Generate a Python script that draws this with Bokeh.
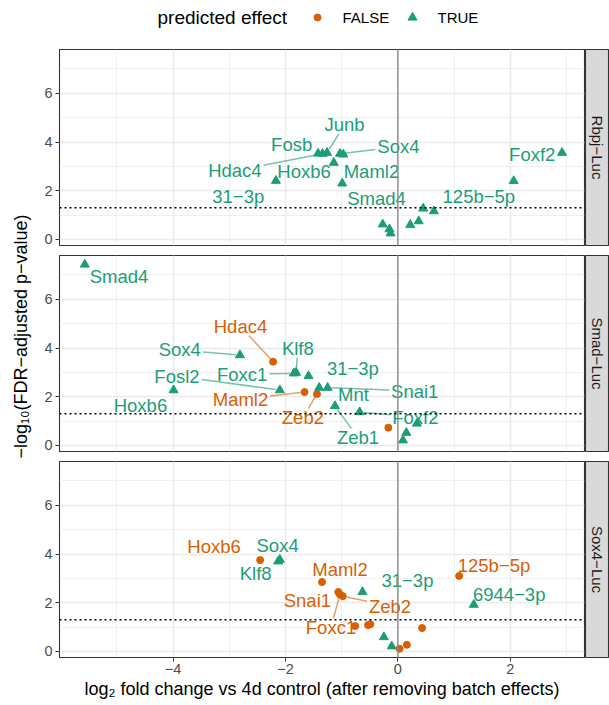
import math
from bokeh.plotting import figure
from bokeh.layouts import column, row
from bokeh.models import Range1d, FixedTicker, Span
from bokeh.core.properties import value
from bokeh.embed import file_html
from bokeh.resources import INLINE

FONT = "Liberation Sans"
ORANGE = "#D95F02"
GREEN = "#1B9E77"

# ---------------- data ----------------
panel_names = ["Rbpj−Luc", "Smad−Luc", "Sox4−Luc"]

rbpj_gene = ["Fosb", "Junb", "Hdac4", "Sox4", "Maml2", "Hoxb6", "Smad4", "31−3p", "Foxf2", "125b−5p",
             None, None, None, None, None, None, None]
rbpj_lfc = [-1.42, -1.26, -1.34, -1.03, -0.97, -1.14, -0.99, -2.17, 2.92, 2.06,
            0.45, 0.64, 0.37, 0.22, -0.27, -0.15, -0.13]
rbpj_nlp = [3.53, 3.56, 3.52, 3.52, 3.49, 3.15, 2.30, 2.41, 3.56, 2.40,
            1.27, 1.16, 0.75, 0.60, 0.62, 0.42, 0.25]
rbpj_eff = [True] * 17

smad_gene = ["Smad4", "Hdac4", "Sox4", "Klf8", "Foxc1", "31−3p", "Fosl2", "Hoxb6", "Maml2", "Zeb2",
             "Mnt", "Snai1", "Zeb1", "Foxf2", None, None, None, None]
smad_lfc = [-5.57, -2.22, -2.81, -1.81, -1.85, -1.59, -2.10, -3.99, -1.66, -1.44,
            -1.40, -1.25, -1.12, -0.68, -0.17, 0.34, 0.15, 0.09]
smad_nlp = [7.43, 3.44, 3.71, 2.99, 2.96, 2.85, 2.27, 2.27, 2.19, 2.11,
            2.37, 2.37, 1.62, 1.37, 0.73, 0.90, 0.52, 0.21]
smad_eff = [True, False, True, True, True, True, True, True, False, False,
            True, True, True, True, False, True, True, True]

sox4_gene = ["Hoxb6", "Klf8", "Sox4", "Maml2", "31−3p", "Snai1", "Foxc1", "Zeb2", "125b−5p", "6944−3p",
             None, None, None, None, None, None, None, None]
sox4_lfc = [-2.45, -2.13, -2.10, -1.35, -0.63, -1.06, -1.03, -0.98, 1.09, 1.35,
            -0.76, -0.53, -0.49, 0.43, 0.16, 0.03, -0.25, -0.11]
sox4_nlp = [3.75, 3.70, 3.77, 2.85, 2.44, 2.44, 2.34, 2.27, 3.10, 1.92,
            1.04, 1.08, 1.12, 0.96, 0.27, 0.11, 0.59, 0.21]
sox4_eff = [False, True, True, False, True, False, False, False, False, True,
            False, False, False, False, False, False, True, True]

# repelled label placement (data coordinates)
rbpj_lab = ["Junb", "Fosb", "Sox4", "Hdac4", "Hoxb6", "Maml2", "31−3p", "Smad4", "125b−5p", "Foxf2"]
rbpj_lab_x = [-0.95, -1.89, 0.01, -2.90, -1.67, -0.47, -2.84, -0.38, 1.44, 2.39]
rbpj_lab_y = [4.70, 3.90, 3.81, 2.81, 2.78, 2.78, 1.75, 1.68, 1.75, 3.47]
rbpj_seg = [True, False, True, True, False, False, False, False, False, False]

smad_lab = ["Smad4", "Hdac4", "Sox4", "Klf8", "Foxc1", "31−3p", "Fosl2", "Hoxb6", "Maml2", "Zeb2",
            "Mnt", "Snai1", "Zeb1", "Foxf2"]
smad_lab_x = [-4.96, -2.80, -3.88, -1.78, -2.77, -0.80, -3.93, -4.58, -2.80, -1.69,
              -0.79, 0.30, -0.71, 0.31]
smad_lab_y = [6.92, 4.88, 3.92, 3.97, 2.92, 3.16, 2.85, 1.64, 1.89, 1.14,
              2.10, 2.23, 0.32, 1.16]
smad_seg = [False, True, True, True, True, False, True, False, True, True,
            False, True, True, True]

sox4_lab = ["Hoxb6", "Sox4", "Klf8", "Maml2", "31−3p", "Snai1", "Zeb2", "Foxc1", "125b−5p", "6944−3p"]
sox4_lab_x = [-3.27, -2.14, -2.53, -1.03, 0.17, -1.61, -0.14, -1.19, 1.71, 1.98]
sox4_lab_y = [4.29, 4.33, 3.19, 3.36, 2.92, 2.10, 1.86, 1.00, 3.53, 2.33]
sox4_seg = [False, False, False, False, False, False, True, True, False, False]

x_ticks = [-4, -2, 0, 2]
x_minor = [-5, -3, -1, 1, 3]
y_ticks = [0, 2, 4, 6]
y_minor = [1, 3, 5, 7]
x_lim = (-6.02, 3.32)
y_lim = (-0.25, 7.80)
sig_line = -math.log10(0.05)

panels = [
    dict(gene=rbpj_gene, lfc=rbpj_lfc, nlp=rbpj_nlp, eff=rbpj_eff,
         lab=rbpj_lab, lx=rbpj_lab_x, ly=rbpj_lab_y, seg=rbpj_seg),
    dict(gene=smad_gene, lfc=smad_lfc, nlp=smad_nlp, eff=smad_eff,
         lab=smad_lab, lx=smad_lab_x, ly=smad_lab_y, seg=smad_seg),
    dict(gene=sox4_gene, lfc=sox4_lfc, nlp=sox4_nlp, eff=sox4_eff,
         lab=sox4_lab, lx=sox4_lab_x, ly=sox4_lab_y, seg=sox4_seg),
]

# ---------------- layout constants ----------------
YT_W = 32          # y title column
BL = 27            # left border (tick labels)
FW = 525           # frame width
BR = 1             # gap to strip
STRIP_W = 24
FH = 196           # frame height
GAP = 10
AXH = 48
LEG_H = 49
LAB_FS = 18.5
TICK_FS = "14.5px"

CW = {'S': .667, 'm': .833, 'a': .556, 'd': .556, 'H': .722, 'c': .5, 'o': .556, 'x': .5,
      'b': .556, 'F': .611, 's': .5, 'l': .222, 'K': .667, 'f': .278, 'J': .5, 'u': .556,
      'n': .556, 'M': .833, 'p': .556, 'Z': .611, 'e': .556, 'i': .222, 't': .278, '−': .584}


def text_w(s, fs):
    return sum(CW.get(ch, .556) for ch in s) * fs


def make_panel(k, last):
    d = panels[k]
    bb = AXH if last else GAP
    p = figure(width=BL + FW + BR, height=FH + bb, output_backend="svg", toolbar_location=None,
               x_range=Range1d(*x_lim), y_range=Range1d(*y_lim),
               x_axis_location="below" if last else None,
               min_border_left=BL, min_border_right=BR, min_border_top=0, min_border_bottom=bb)
    p.outline_line_color = "#333333"
    p.outline_line_width = 1.1
    p.background_fill_color = "white"
    p.border_fill_color = "white"
    for g, tk, mn in ((p.xgrid[0], x_ticks, x_minor), (p.ygrid[0], y_ticks, y_minor)):
        g.ticker = FixedTicker(ticks=tk, minor_ticks=mn)
        g.grid_line_color = "#EBEBEB"
        g.grid_line_width = 1.6
        g.minor_grid_line_color = "#EBEBEB"
        g.minor_grid_line_width = 0.8
    axes = list(p.yaxis) + (list(p.xaxis) if last else [])
    for ax in axes:
        ax.axis_line_color = None
        ax.major_tick_line_color = "#333333"
        ax.major_tick_out = 4
        ax.major_tick_in = 0
        ax.minor_tick_line_color = None
        ax.major_label_text_font = FONT
        ax.major_label_text_font_size = TICK_FS
        ax.major_label_text_color = "#4D4D4D"
        ax.major_label_standoff = 3
    p.yaxis[0].ticker = FixedTicker(ticks=y_ticks)
    if last:
        xa = p.xaxis[0]
        xa.ticker = FixedTicker(ticks=x_ticks)
        xa.major_label_standoff = 2
        xa.major_label_overrides = {t: str(t).replace("-", "−") for t in x_ticks}
        xa.axis_label = "log₂ fold change vs 4d control (after removing batch effects)"
        xa.axis_label_text_font = FONT
        xa.axis_label_text_font_size = "18px"
        xa.axis_label_text_font_style = "normal"
        xa.axis_label_text_color = "black"
        xa.axis_label_standoff = 2

    p.add_layout(Span(location=0, dimension="height", line_color="#8C8C8C", line_width=1.4))
    p.add_layout(Span(location=sig_line, dimension="width", line_color="black",
                      line_width=1.6, line_dash="2 3"))

    fx = [x for x, e in zip(d["lfc"], d["eff"]) if not e]
    fy = [y for y, e in zip(d["nlp"], d["eff"]) if not e]
    tx = [x for x, e in zip(d["lfc"], d["eff"]) if e]
    ty = [y for y, e in zip(d["nlp"], d["eff"]) if e]
    p.scatter(fx, fy, marker="circle", size=7, color=ORANGE)
    p.scatter(tx, ty, marker="triangle", size=9, color=GREEN)

    # labels and repel segments
    sx = FW / (x_lim[1] - x_lim[0])
    sy = FH / (y_lim[1] - y_lim[0])
    idx = {g: i for i, g in enumerate(d["gene"]) if g}
    lab_col, sx0, sy0, sx1, sy1, seg_col = [], [], [], [], [], []
    for name, lx, ly, sg in zip(d["lab"], d["lx"], d["ly"], d["seg"]):
        i = idx[name]
        col = GREEN if d["eff"][i] else ORANGE
        lab_col.append(col)
        if not sg:
            continue
        px, py = d["lfc"][i], d["nlp"][i]
        dx, dy = (px - lx) * sx, (py - ly) * sy
        dist = math.hypot(dx, dy)
        hw = text_w(name, LAB_FS) / 2 + 2
        hh = 9
        t = min(hw / abs(dx) if dx else 1e9, hh / abs(dy) if dy else 1e9)
        x0, y0 = lx + t * dx / sx, ly + t * dy / sy
        e = 4 / dist
        x1, y1 = px - e * dx / sx, py - e * dy / sy
        sx0.append(x0); sy0.append(y0); sx1.append(x1); sy1.append(y1); seg_col.append(col)
    p.segment(sx0, sy0, sx1, sy1, line_color=seg_col, line_width=1.5, line_alpha=0.6)
    p.text(d["lx"], d["ly"], text=d["lab"], text_color=lab_col, text_font=value(FONT),
           text_font_size=f"{LAB_FS}px", text_align="center", text_baseline="middle")
    return p


def make_strip(k, last):
    bb = AXH if last else GAP
    s = figure(width=STRIP_W, height=FH + bb, output_backend="svg", toolbar_location=None,
               x_range=Range1d(0, 1), y_range=Range1d(0, 1),
               x_axis_type=None, y_axis_type=None,
               min_border_left=0, min_border_right=0, min_border_top=0, min_border_bottom=bb)
    s.grid.visible = False
    s.background_fill_color = "#D9D9D9"
    s.border_fill_color = "white"
    s.outline_line_color = "#333333"
    s.outline_line_width = 1.1
    s.text([0.5], [0.5], text=[panel_names[k]], angle=-math.pi / 2, text_font=value(FONT),
           text_font_size="15px", text_color="#1A1A1A", text_align="center", text_baseline="middle")
    return s


rows = []
for k in range(3):
    last = k == 2
    rows.append(row(make_panel(k, last), make_strip(k, last)))
panels_col = column(*rows)

body_h = 2 * (FH + GAP) + FH + AXH
yt = figure(width=YT_W, height=body_h, output_backend="svg", toolbar_location=None,
            x_range=Range1d(0, YT_W), y_range=Range1d(body_h, 0),
            x_axis_type=None, y_axis_type=None, min_border=0)
yt.grid.visible = False
yt.outline_line_color = None
yt.text([20], [(3 * FH + 2 * GAP) / 2 - 17], text=["−log₁₀(FDR−adjusted p−value)"], angle=math.pi / 2,
        text_font=value(FONT), text_font_size="18px", text_color="black",
        text_align="center", text_baseline="middle")

TOT_W = YT_W + BL + FW + BR + STRIP_W
leg = figure(width=TOT_W, height=LEG_H, output_backend="svg", toolbar_location=None,
             x_range=Range1d(0, TOT_W), y_range=Range1d(LEG_H, 0),
             x_axis_type=None, y_axis_type=None, min_border=0)
leg.grid.visible = False
leg.outline_line_color = None
leg.text([157], [17], text=["predicted effect"], text_font=value(FONT), text_font_size="19px",
         text_color="black", text_align="left", text_baseline="middle")
leg.scatter([317], [17], marker="circle", size=7, color=ORANGE)
leg.scatter([412], [17], marker="triangle", size=9, color=GREEN)
leg.text([342, 437], [17, 17], text=["FALSE", "TRUE"], text_font=value(FONT), text_font_size="15px",
         text_color="black", text_align="left", text_baseline="middle")

layout = column(leg, row(yt, panels_col))
open("out.html", "w").write(file_html(layout, INLINE))
